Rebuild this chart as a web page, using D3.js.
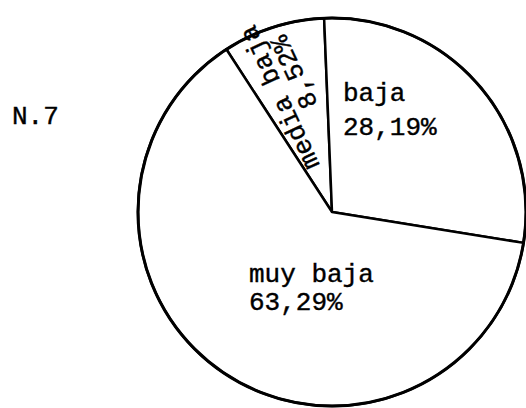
<!DOCTYPE html>
<html lang="es">
<head>
<meta charset="UTF-8">
<title>N.7</title>
<script src="https://d3js.org/d3.v7.min.js"></script>
<style>
  body { margin: 0; background: #fff; }
  text { font-family: "Liberation Mono", "DejaVu Sans Mono", monospace; fill: #000; stroke: #000; stroke-width: 0.4px; }
</style>
</head>
<body>
<script>
const categories = ["media baja", "baja", "muy baja"];
const values = [8.52, 28.19, 63.29];
const valueLabels = ["8,52%", "28,19%", "63,29%"];
const title = "N.7";

const width = 526, height = 408;
const cx = 332, cy = 212, radius = 194;
const fs = "26px";

const svg = d3.select("body").append("svg")
    .attr("width", width)
    .attr("height", height);

svg.append("text")
    .attr("x", 12)
    .attr("y", 124)
    .style("font-size", fs)
    .text(title);

const startDeg = -33;
const pie = d3.pie()
    .sort(null)
    .startAngle(startDeg * Math.PI / 180)
    .endAngle((startDeg + 360) * Math.PI / 180);

const arc = d3.arc().innerRadius(0).outerRadius(radius);

const g = svg.append("g").attr("transform", `translate(${cx},${cy})`);

g.selectAll("path")
    .data(pie(values))
    .enter().append("path")
    .attr("d", arc)
    .attr("fill", "#fff")
    .attr("stroke", "#000")
    .attr("stroke-width", 2.5)
    .attr("stroke-linejoin", "round");

// outer ring a bit heavier, like the scan
g.append("circle")
    .attr("r", radius)
    .attr("fill", "none")
    .attr("stroke", "#000")
    .attr("stroke-width", 3);

// media baja: rotated along the narrow wedge
const rot = g.append("g")
    .attr("transform", "translate(-12,-47) rotate(-115)");
rot.append("text").attr("x", 0).attr("y", 0).style("font-size", fs).text(categories[0]);
rot.append("text").attr("x", 56).attr("y", 24).style("font-size", fs).text(valueLabels[0]);

// baja
g.append("text").attr("x", 11).attr("y", -111).style("font-size", fs).text(categories[1]);
g.append("text").attr("x", 11).attr("y", -77).style("font-size", fs).text(valueLabels[1]);

// muy baja
g.append("text").attr("x", -83).attr("y", 70).style("font-size", fs).text(categories[2]);
g.append("text").attr("x", -83).attr("y", 98).style("font-size", fs).text(valueLabels[2]);
</script>
</body>
</html>
